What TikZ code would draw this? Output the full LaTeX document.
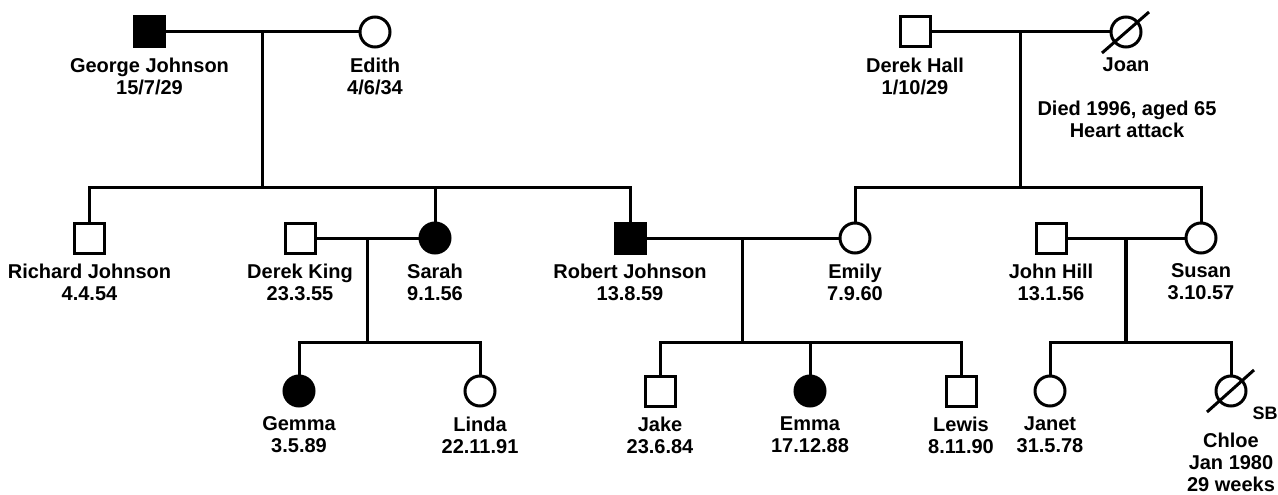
\documentclass[tikz,border=0pt]{standalone}
\usepackage{fontspec}
\setmainfont{Liberation Sans}
\usetikzlibrary{calc}
\usetikzlibrary{positioning}
\tikzset{male/.style={rectangle,draw,line width=3pt,minimum size=30pt,inner sep=0pt},female/.style={circle,draw,line width=3pt,minimum size=30pt,inner sep=0pt},affected/.style={fill=black},link/.style={line width=3pt},descent/.style={line width=3.5pt},note/.style={font=\fontsize{20}{22}\selectfont\bfseries,align=center,inner sep=0pt}}
\tikzstyle{slash}=[line width=3pt]
\tikzstyle{every label}=[font=\fontsize{20}{22}\selectfont\bfseries,align=center,inner sep=0pt]

\begin{document}
\begin{tikzpicture}[x=1pt,y=-1pt,label distance=9pt]
\useasboundingbox (0,0) rectangle (1278,495);

% first generation
\node (george) at (149.5,32)[male,affected,label=below:{George Johnson\\15/7/29}]{};
\node (edith) at (375,32)[female,label=below:{Edith\\4/6/34}]{}
  edge [link] (george);

\node (derekh) at (915,32)[male,label=below:{Derek Hall\\1/10/29}]{};
\node (joan) at (1126,32)[female,label=below:{Joan}]{}
  edge [link] (derekh);
\draw [slash] ([shift={(-24,21)}]joan.center) -- ([shift={(23,-20)}]joan.center);
\node (joannote) at (1127,101)[anchor=north,note]{Died 1996, aged 65\\Heart attack};

% second generation
\node (richard) at (89.5,238)[male,label=below:{Richard Johnson\\4.4.54}]{};
\node (derekk) at (300,238)[male,label=below:{Derek King\\23.3.55}]{};
\node (sarah) at (435,238)[female,affected,label=below:{Sarah\\9.1.56}]{}
  edge [link] (derekk);
\node (robert) at (630,238)[male,affected,label=below:{Robert Johnson\\13.8.59}]{};
\node (emily) at (855,238)[female,label=below:{Emily\\7.9.60}]{}
  edge [link] (robert);
\node (johnh) at (1051,238)[male,label=below:{John Hill\\13.1.56}]{};
\node (susan) at (1201,238)[female,label=below:{Susan\\3.10.57}]{}
  edge [link] (johnh);

\coordinate (gjmid) at ($(george)!0.5!(edith)$);
\coordinate (gjsib) at ($(gjmid)+(0,155)$);
\draw [descent] (gjmid) -- (gjsib);
\draw [link] (richard) -- (richard |- gjsib) -- (robert |- gjsib) -- (robert);
\draw [link] (sarah) -- (sarah |- gjsib);

\coordinate (hjmid) at ($(derekh)!0.5!(joan)$);
\coordinate (hjsib) at ($(hjmid)+(0,155)$);
\draw [descent] (hjmid) -- (hjsib);
\draw [link] (emily) -- (emily |- hjsib) -- (susan |- hjsib) -- (susan);

% third generation
\node (gemma) at (299,391)[female,affected,label=below:{Gemma\\3.5.89}]{};
\node (linda) at (480,391)[female,label=below:{Linda\\22.11.91}]{};
\node (jake) at (660,391)[male,label=below:{Jake\\23.6.84}]{};
\node (emma) at (810,391)[female,affected,label=below:{Emma\\17.12.88}]{};
\node (lewis) at (961,391)[male,label=below:{Lewis\\8.11.90}]{};
\node (janet) at (1050,391)[female,label=below:{Janet\\31.5.78}]{};
\node (chloe) at (1231,391)[female,label={[label distance=25pt]below:{Chloe\\Jan 1980\\29 weeks}}]{};
\draw [slash] ([shift={(-24,21)}]chloe.center) -- ([shift={(23,-21)}]chloe.center);
\node (sb) at (1265,413)[note,font=\fontsize{18}{20}\selectfont\bfseries]{SB};

\coordinate (kmid) at ($(derekk)!0.5!(sarah)$);
\coordinate (ksib) at ($(kmid)+(0,104)$);
\draw [descent] (kmid) -- (ksib);
\draw [link] (gemma) -- (gemma |- ksib) -- (linda |- ksib) -- (linda);

\coordinate (rjmid) at ($(robert)!0.5!(emily)$);
\coordinate (rjsib) at ($(rjmid)+(0,104)$);
\draw [descent] (rjmid) -- (rjsib);
\draw [link] (jake) -- (jake |- rjsib) -- (lewis |- rjsib) -- (lewis);
\draw [link] (emma) -- (emma |- rjsib);

\coordinate (jhmid) at ($(johnh)!0.5!(susan)$);
\coordinate (jhsib) at ($(jhmid)+(0,104)$);
\draw [descent] (jhmid) -- (jhsib);
\draw [link] (janet) -- (janet |- jhsib) -- (chloe |- jhsib) -- (chloe);

\end{tikzpicture}
\end{document}
